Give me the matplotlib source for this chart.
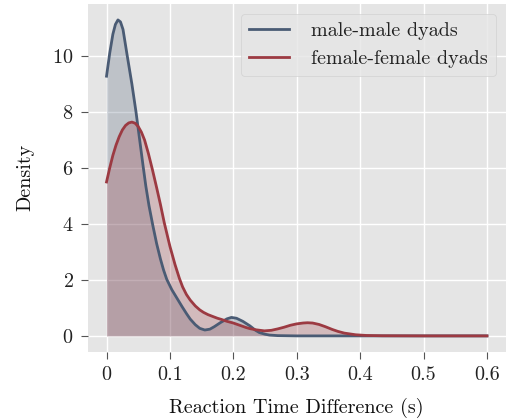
import matplotlib
matplotlib.use("Agg")
import matplotlib.pyplot as plt

plt.style.use("ggplot")
plt.rcParams["font.family"] = ["cmr10", "DejaVu Serif"]
plt.rcParams["mathtext.fontset"] = "cm"
plt.rcParams["axes.formatter.use_mathtext"] = True

# Reaction time difference (s) -> density
male_x = [0, 0.005, 0.01, 0.014, 0.018, 0.022, 0.026, 0.032, 0.04, 0.0465, 0.052, 0.0575,
          0.062, 0.067, 0.073, 0.079, 0.085, 0.09, 0.095, 0.103, 0.111, 0.119,
          0.126, 0.132, 0.14, 0.147, 0.155, 0.163, 0.17, 0.18, 0.19, 0.197,
          0.205, 0.215, 0.226, 0.235, 0.241, 0.25, 0.257, 0.27, 0.3, 0.4, 0.5, 0.6]
male_y = [9.28, 10.1, 10.78, 11.13, 11.29, 11.22, 10.95, 10.1, 9.0, 8.0, 7.05, 6.1,
          5.35, 4.65, 3.95, 3.3, 2.75, 2.35, 2.02, 1.65, 1.35, 1.05,
          0.8, 0.6, 0.4, 0.27, 0.21, 0.24, 0.33, 0.48, 0.61, 0.66,
          0.63, 0.52, 0.36, 0.2, 0.12, 0.06, 0.03, 0.01, 0.0, 0.0, 0.0, 0.0]

female_x = [0, 0.005, 0.01, 0.015, 0.02, 0.025, 0.03, 0.035, 0.04, 0.045, 0.05, 0.055,
            0.06, 0.066, 0.0726, 0.079, 0.085, 0.091,
            0.1, 0.108, 0.115, 0.12, 0.126, 0.132, 0.14, 0.147, 0.153, 0.16, 0.168,
            0.175, 0.181, 0.19, 0.2, 0.21, 0.22, 0.226, 0.235, 0.249, 0.26, 0.27,
            0.28, 0.29, 0.3, 0.31, 0.317, 0.325, 0.335, 0.345, 0.356, 0.365, 0.375,
            0.393, 0.41, 0.435, 0.5, 0.6]
female_y = [5.5, 6.0, 6.45, 6.82, 7.12, 7.36, 7.52, 7.61, 7.64, 7.6, 7.48, 7.28,
            7.0, 6.52, 5.92, 5.3, 4.7, 4.05,
            3.2, 2.55, 2.05, 1.75, 1.48, 1.28, 1.07, 0.93, 0.84, 0.76, 0.69,
            0.63, 0.59, 0.52, 0.46, 0.38, 0.3, 0.26, 0.22, 0.18, 0.2, 0.25,
            0.31, 0.38, 0.43, 0.46, 0.47, 0.46, 0.41, 0.33, 0.23, 0.16, 0.1,
            0.04, 0.015, 0.005, 0.0, 0.0]

labels = ["male-male dyads", "female-female dyads"]
colors = ["#4a5b74", "#9c3a42"]
x_ticks = [0, 0.1, 0.2, 0.3, 0.4, 0.5, 0.6]
x_tick_labels = ["0", "0.1", "0.2", "0.3", "0.4", "0.5", "0.6"]
y_ticks = [0, 2, 4, 6, 8, 10]

fig = plt.figure(figsize=(5.07, 4.19), dpi=100)
ax = fig.add_axes([0.1726, 0.1606, 0.8254, 0.8299])
ax.set_facecolor("#e5e5e5")

for xs, ys, lab, c in [(male_x, male_y, labels[0], colors[0]),
                       (female_x, female_y, labels[1], colors[1])]:
    ax.plot(xs, ys, color=c, lw=2, label=lab, zorder=3)
    ax.fill_between(xs, ys, 0, color=c, alpha=0.25, lw=0, zorder=2)

ax.set_xlim(-0.03, 0.63)
ax.set_ylim(-0.565, 11.86)
ax.set_xticks(x_ticks)
ax.set_xticklabels(x_tick_labels)
ax.set_yticks(y_ticks)
ax.grid(True, color="white", lw=1)
ax.set_axisbelow(True)
for s in ax.spines.values():
    s.set_visible(False)
ax.tick_params(axis="both", colors="#555555", labelcolor="#222222",
               labelsize=14.5, length=5, width=0.8, pad=5)
ax.set_xlabel("Reaction Time Difference (s)", fontsize=14.5, color="#111111", labelpad=10)
ax.set_ylabel("Density", fontsize=14.5, color="#111111", labelpad=13)

leg = ax.legend(loc="upper right", fontsize=14.5, handlelength=2.0,
                handletextpad=1.1, borderaxespad=0.5, frameon=True,
                facecolor="#e5e5e5", edgecolor="#cccccc", framealpha=0.8)
for t in leg.get_texts():
    t.set_color("#222222")

fig.savefig("out.png", dpi=100)
